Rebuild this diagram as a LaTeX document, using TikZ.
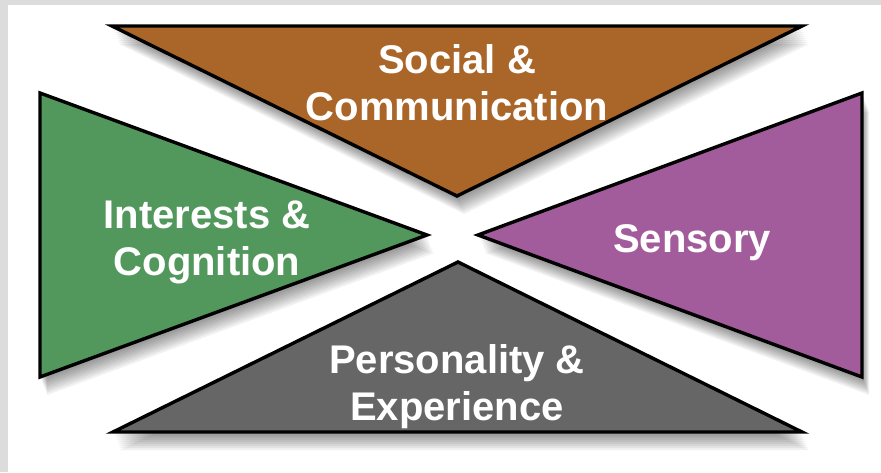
\documentclass[tikz,border=0pt]{standalone}
\usepackage{fontspec}
\setmainfont{Liberation Sans}
\usepackage{tikz}
\usepackage{color}

\definecolor{socialbrown}{RGB}{170,102,40}
\definecolor{interestgreen}{RGB}{82,152,92}
\definecolor{sensorypurple}{RGB}{162,92,156}
\definecolor{personalgrey}{RGB}{102,102,102}
\definecolor{framegrey}{RGB}{220,220,220}

\begin{document}
\begin{tikzpicture}[x=1pt,y=-1pt,
        wedge/.style={draw=black,line width=3.4pt,line join=miter},
        lbl/.style={text=white,align=center,font=\bfseries\fontsize{40}{47}\selectfont,inner sep=0pt}]
        % frame
        \fill[framegrey] (0,0) rectangle (881,472);
        \fill[white] (8,5) rectangle (881,472);
        \useasboundingbox (0,0) rectangle (881,472);

        \coordinate (s1) at (112,26);
        \coordinate (s2) at (802,26);
        \coordinate (s3) at (457,196);
        \coordinate (i1) at (40,93);
        \coordinate (i2) at (40,377);
        \coordinate (i3) at (427,235);
        \coordinate (e1) at (862,93);
        \coordinate (e2) at (862,377);
        \coordinate (e3) at (478,235);
        \coordinate (p1) at (113,432);
        \coordinate (p2) at (802,432);
        \coordinate (p3) at (458,262);

        % soft shadows
        \foreach \k in {1,...,9}{
            \begin{scope}[transform canvas={shift={(0.8*\k pt,-2*\k pt)}}]
                \fill[black,opacity=0.055] (s1) -- (s2) -- (s3) -- cycle;
                \fill[black,opacity=0.055] (i1) -- (i2) -- (i3) -- cycle;
                \fill[black,opacity=0.055] (e1) -- (e2) -- (e3) -- cycle;
                \fill[black,opacity=0.055] (p1) -- (p2) -- (p3) -- cycle;
            \end{scope}
        }

        \draw[wedge,fill=socialbrown] (s1) -- (s2) -- (s3) -- cycle;
        \draw[wedge,fill=interestgreen] (i1) -- (i2) -- (i3) -- cycle;
        \draw[wedge,fill=sensorypurple] (e1) -- (e2) -- (e3) -- cycle;
        \draw[wedge,fill=personalgrey] (p1) -- (p2) -- (p3) -- cycle;

        \node[lbl] (social) at (457,83) {Social \&\\Communication};
        \node[lbl] (interests) at (207,242) {Interests \&\\Cognition};
        \node[lbl] (sensory) at (692,243) {Sensory};
        \node[lbl] (personality) at (457,387) {Personality \&\\Experience};
    \end{tikzpicture}
\end{document}
